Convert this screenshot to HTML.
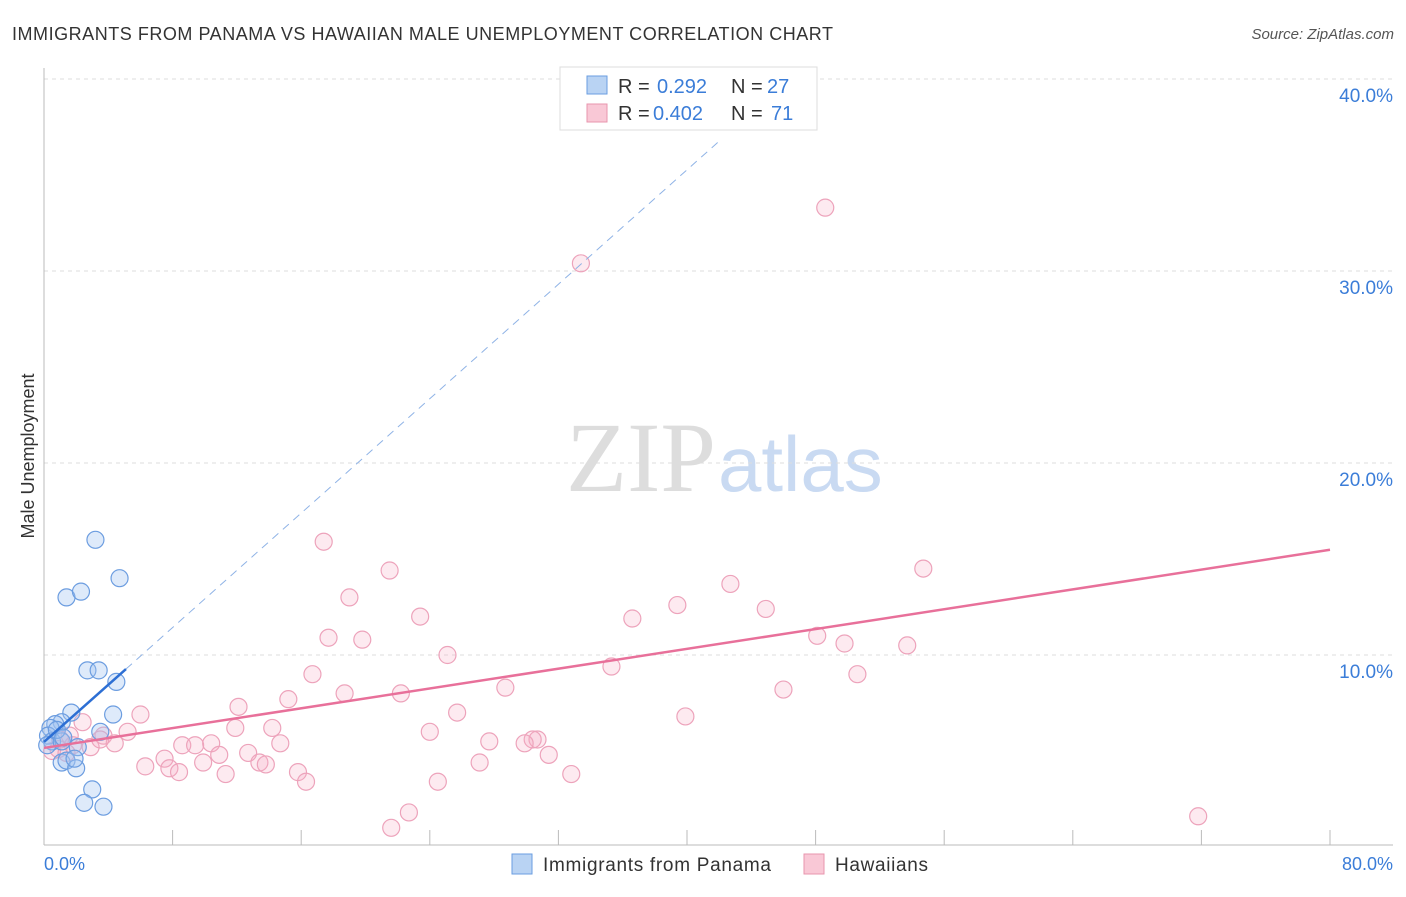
<!DOCTYPE html>
<html><head><meta charset="utf-8"><style>
body{margin:0;background:#fff;font-family:"Liberation Sans",sans-serif;}
svg text{font-family:"Liberation Sans",sans-serif;}
</style></head><body>
<svg width="1406" height="892" viewBox="0 0 1406 892">
<text x="12" y="40" font-size="18" fill="#333" textLength="821">IMMIGRANTS FROM PANAMA VS HAWAIIAN MALE UNEMPLOYMENT CORRELATION CHART</text>
<text x="1394" y="39" font-size="15" fill="#555" text-anchor="end" font-style="italic">Source: ZipAtlas.com</text>
<text x="716" y="491" font-size="100" fill="#ddd" text-anchor="end" style="font-family:'Liberation Serif',serif">ZIP</text>
<text x="718" y="491" font-size="78" fill="#c9daf2">atlas</text>
<g id="grid"></g>
<line x1="44" y1="68" x2="44" y2="845" stroke="#bbb"/>
<line x1="44" y1="845" x2="1393" y2="845" stroke="#bbb"/>
<text x="34" y="456" font-size="18" fill="#333" text-anchor="middle" transform="rotate(-90 34 456)">Male Unemployment</text>
<g id="pts"></g>
<g id="lines"></g>
<g>
<rect x="560" y="67" width="257" height="63" fill="#fff" stroke="#ddd"/>
<rect x="587" y="76" width="20" height="18" fill="#b9d3f3" stroke="#6a9ee0"/>
<rect x="587" y="104" width="20" height="18" fill="#f9c8d6" stroke="#e896ae"/>
<text x="618" y="93" font-size="20" fill="#333">R =</text>
<text x="657" y="93" font-size="20" fill="#3b7dd8">0.292</text>
<text x="731" y="93" font-size="20" fill="#333">N =</text>
<text x="767" y="93" font-size="20" fill="#3b7dd8">27</text>
<text x="618" y="120" font-size="20" fill="#333">R =</text>
<text x="653" y="120" font-size="20" fill="#3b7dd8">0.402</text>
<text x="731" y="120" font-size="20" fill="#333">N =</text>
<text x="771" y="120" font-size="20" fill="#3b7dd8">71</text>
</g>
<text x="44" y="870" font-size="18" fill="#3b7dd8">0.0%</text>
<text x="1393" y="870" font-size="18" fill="#3b7dd8" text-anchor="end">80.0%</text>
<g>
<rect x="512" y="854" width="20" height="20" fill="#b9d3f3" stroke="#6a9ee0"/>
<text x="543" y="871" font-size="19" fill="#333" textLength="228">Immigrants from Panama</text>
<rect x="804" y="854" width="20" height="20" fill="#f9c8d6" stroke="#e896ae"/>
<text x="835" y="871" font-size="19" fill="#333" textLength="93">Hawaiians</text>
</g>
</svg>
<script>
const yTicks=[10,20,30,40];
const yTickLabels=["10.0%","20.0%","30.0%","40.0%"];
const xTicks=[8,16,24,32,40,48,56,64,72,80];
const bluePts=[[3.2,16.0],[1.4,13.0],[2.3,13.3],[4.7,14.0],[2.7,9.2],[3.4,9.2],[4.5,8.6],[4.3,6.9],[1.7,7.0],[3.5,6.0],[1.1,6.5],[0.7,6.4],[0.4,6.2],[0.25,5.8],[0.5,5.5],[0.2,5.3],[1.1,5.5],[2.1,5.2],[1.1,4.4],[1.4,4.5],[2.0,4.1],[1.9,4.6],[3.0,3.0],[2.5,2.3],[3.7,2.1],[0.8,6.1],[1.2,5.7]];
const pinkPts=[[48.6,33.3],[33.4,30.4],[17.4,15.9],[54.7,14.5],[21.5,14.4],[42.7,13.7],[19.0,13.0],[39.4,12.6],[44.9,12.4],[23.4,12.0],[36.6,11.9],[17.7,10.9],[19.8,10.8],[48.1,11.0],[49.8,10.6],[53.7,10.5],[25.1,10.0],[35.3,9.4],[16.7,9.0],[50.6,9.0],[28.7,8.3],[46.0,8.2],[22.2,8.0],[18.7,8.0],[15.2,7.7],[12.1,7.3],[6.0,6.9],[25.7,7.0],[39.9,6.8],[2.4,6.5],[11.9,6.2],[14.2,6.2],[24.0,6.0],[5.2,6.0],[3.7,5.8],[30.7,5.6],[30.4,5.6],[27.7,5.5],[29.9,5.4],[8.6,5.3],[9.4,5.3],[10.4,5.4],[14.7,5.4],[4.4,5.4],[2.9,5.2],[1.8,5.3],[0.9,5.1],[12.7,4.9],[10.9,4.8],[31.4,4.8],[7.5,4.6],[9.9,4.4],[13.4,4.4],[13.8,4.3],[27.1,4.4],[6.3,4.2],[7.8,4.1],[8.4,3.9],[11.3,3.8],[15.8,3.9],[32.8,3.8],[24.5,3.4],[16.3,3.4],[22.7,1.8],[21.6,1.0],[71.8,1.6],[1.0,5.6],[1.6,5.8],[3.5,5.6],[0.5,5.0],[1.4,4.9]];
const blueLine=[5.47,0.745];
const pinkLine=[5.16,0.129];
const X=v=>44+v/80*1286, Y=v=>847-v*19.2;
const NS="http://www.w3.org/2000/svg";
function mk(t,a,p){const e=document.createElementNS(NS,t);for(const k in a)e.setAttribute(k,a[k]);p.appendChild(e);return e;}
const grid=document.getElementById('grid');
yTicks.forEach((t,i)=>{
 const l=mk('line',{x1:44,x2:1393,y1:Y(t),y2:Y(t),stroke:'#ddd','stroke-dasharray':'4,4'},grid);
 
 
 const tx=mk('text',{x:1393,y:Y(t)+23,'font-size':19,fill:'#3b7dd8','text-anchor':'end'},grid);
 tx.textContent=yTickLabels[i];
 
 
});
xTicks.forEach(t=>{
 const l=mk('line',{x1:X(t),x2:X(t),y1:830,y2:845,stroke:'#bbb'},grid);
 
 
});
const pts=document.getElementById('pts');
pinkPts.forEach(p=>{
 const c=mk('circle',{cx:X(p[0]),cy:Y(p[1]),r:8.5,fill:'rgba(246,170,195,0.25)',stroke:'#eda3bb','stroke-width':1.2},pts);
 
 
});
bluePts.forEach(p=>{
 const c=mk('circle',{cx:X(p[0]),cy:Y(p[1]),r:8.5,fill:'rgba(160,195,240,0.35)',stroke:'#6c9de0','stroke-width':1.2},pts);
 
 
});
const ln=document.getElementById('lines');
const bx1=5.1, bx2=42;
let l=mk('line',{x1:X(bx1),y1:Y(blueLine[0]+blueLine[1]*bx1),x2:X(bx2),y2:Y(blueLine[0]+blueLine[1]*bx2),stroke:'#8fb3e6','stroke-width':1,'stroke-dasharray':'8,6'},ln);


l=mk('line',{x1:X(0),y1:Y(blueLine[0]),x2:X(bx1),y2:Y(blueLine[0]+blueLine[1]*bx1),stroke:'#2d6fd4','stroke-width':2.5},ln);


l=mk('line',{x1:X(0),y1:Y(pinkLine[0]),x2:X(80),y2:Y(pinkLine[0]+pinkLine[1]*80),stroke:'#e8709a','stroke-width':2.5},ln);


</script>
</body></html>
